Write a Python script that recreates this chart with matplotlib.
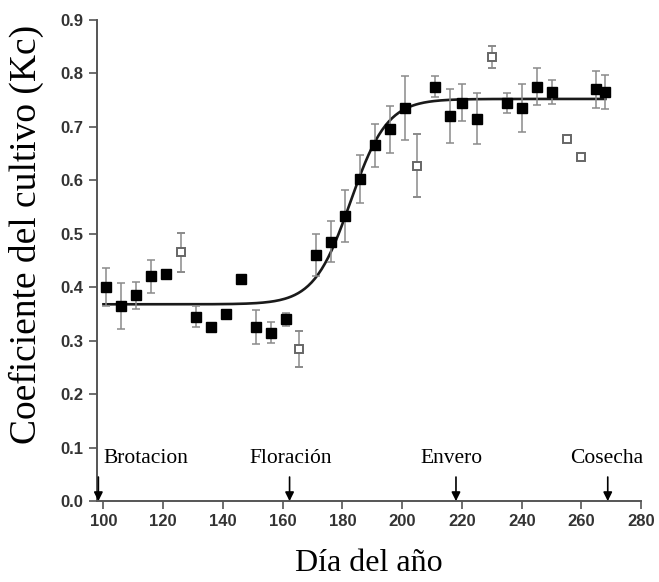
import numpy as np
import matplotlib.pyplot as plt

# datos
dias_llenos = [101, 106, 111, 116, 121, 131, 136, 141, 146, 151, 156, 161,
               171, 176, 181, 186, 191, 196, 201, 211, 216, 220, 225, 235,
               240, 245, 250, 265, 268]
kc_llenos = [0.40, 0.365, 0.385, 0.42, 0.425, 0.345, 0.325, 0.35, 0.415, 0.325,
             0.315, 0.34, 0.46, 0.485, 0.533, 0.603, 0.665, 0.695, 0.735, 0.775,
             0.72, 0.745, 0.715, 0.745, 0.735, 0.775, 0.765, 0.77, 0.765]
err_llenos = [0.035, 0.043, 0.025, 0.03, 0.0, 0.02, 0.0, 0.0, 0.0, 0.032,
              0.02, 0.012, 0.04, 0.038, 0.048, 0.045, 0.041, 0.044, 0.06, 0.02,
              0.05, 0.034, 0.048, 0.019, 0.045, 0.035, 0.022, 0.035, 0.032]

dias_vacios = [126, 165.5, 205, 230, 255, 260]
kc_vacios = [0.465, 0.285, 0.627, 0.83, 0.677, 0.643]
err_vacios = [0.037, 0.034, 0.059, 0.021, 0.0, 0.0]

# curva sigmoide ajustada (parámetros)
kc_min, kc_max, x0, k = 0.368, 0.752, 182.7, 6.13
dia_ini, dia_fin = 100, 268

etapas = ['Brotacion', 'Floración', 'Envero', 'Cosecha']
dias_etapas = [98.3, 162.3, 218, 268.8]
texto_x = [100, 162.6, 216.5, 268.3]

fig = plt.figure(figsize=(6.59, 5.82), dpi=100)
ax = fig.add_axes([0.147, 0.139, 0.826, 0.827])

ax.errorbar(dias_llenos, kc_llenos, yerr=err_llenos, fmt='s', color='black',
            ms=7, ecolor='#8a8a8a', elinewidth=1.1, capsize=3, capthick=1.1, zorder=3)
ax.errorbar(dias_vacios, kc_vacios, yerr=err_vacios, fmt='s', mfc='white',
            mec='#666666', mew=1.4, ms=5.5, ecolor='#8a8a8a', elinewidth=1.1,
            capsize=3, capthick=1.1, zorder=3)

xc = np.linspace(dia_ini, dia_fin, 300)
yc = kc_min + (kc_max - kc_min) / (1 + np.exp(-(xc - x0) / k))
ax.plot(xc, yc, color='#1a1a1a', lw=1.9, zorder=2)

for nombre, d, tx in zip(etapas, dias_etapas, texto_x):
    ax.annotate('', xy=(d, 0), xytext=(d, 0.045),
                arrowprops=dict(arrowstyle='-|>', color='black', lw=1.2,
                                mutation_scale=13, shrinkA=0, shrinkB=0),
                annotation_clip=False, zorder=4)
    ha = 'left' if nombre == 'Brotacion' else 'center'
    ax.text(tx, 0.08, nombre, ha=ha, va='center', fontsize=15.5,
            family='Liberation Serif')

ax.set_xlim(97.8, 280)
ax.set_ylim(0, 0.9)
ax.set_xticks(np.arange(100, 281, 20))
ax.set_yticks(np.arange(0, 0.91, 0.1))
ax.set_yticklabels([f'{v:.1f}' for v in np.arange(0, 0.91, 0.1)])

for s in ['top', 'right']:
    ax.spines[s].set_visible(False)
for s in ['left', 'bottom']:
    ax.spines[s].set_color('#555555')
    ax.spines[s].set_linewidth(1.4)
ax.tick_params(direction='out', length=6, width=1.2, color='#555555',
               labelsize=12, labelcolor='#333333')
for lab in ax.get_xticklabels() + ax.get_yticklabels():
    lab.set_family('Liberation Sans')
    lab.set_weight('bold')

ax.set_xlabel('Día del año', family='Liberation Serif', fontsize=23, labelpad=14)
ax.set_ylabel('Coeficiente del cultivo (Kc)', family='Liberation Serif',
              fontsize=27)
ax.yaxis.set_label_coords(-0.098, 0.555)

fig.savefig('out.png', dpi=100)
